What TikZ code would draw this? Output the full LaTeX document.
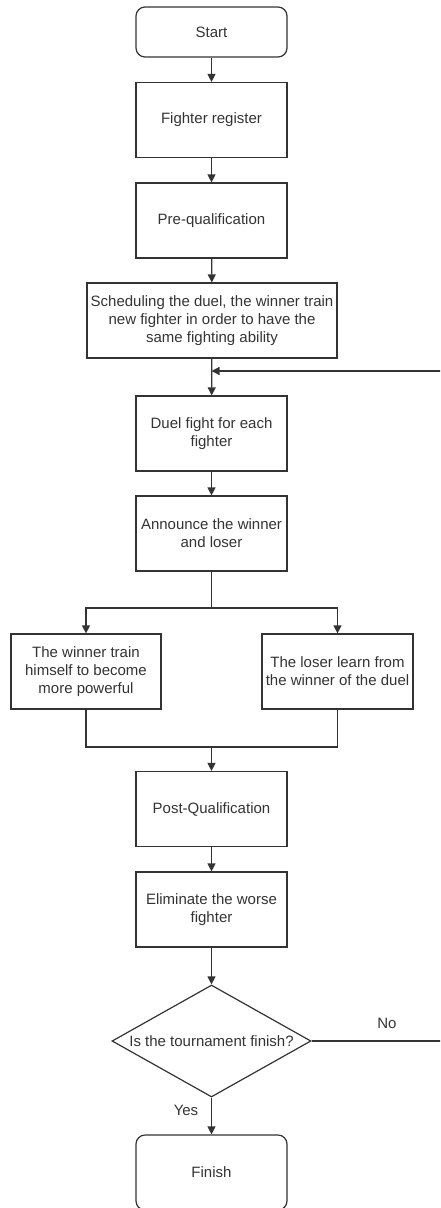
\documentclass[tikz,border=0pt]{standalone}
\usepackage{fontspec}
\setmainfont{Liberation Sans}
\usepackage{tikz}
\usetikzlibrary{arrows.meta}
\usetikzlibrary{shapes.geometric}

\definecolor{inkgray}{HTML}{333333}

\begin{document}
\begin{tikzpicture}[x=1pt, y=-1pt, >={Triangle[length=8pt,width=8pt]},
        every node/.style={text=inkgray, font=\fontsize{15}{18}\selectfont},
        process/.style={rectangle, draw=inkgray, line width=1.2pt, inner sep=0pt, align=center, minimum width=151pt, minimum height=75pt},
        terminal/.style={process, rounded corners=9pt},
        decision/.style={diamond, draw=inkgray, line width=1.2pt, inner sep=0pt, minimum width=199pt, minimum height=112pt},
        flow/.style={draw=inkgray, line width=1.2pt}]
        \useasboundingbox (0,0) rectangle (440,1208);
        \clip (0,0) rectangle (440,1208);

        \node[terminal, minimum height=50pt] (start) at (211.5,32) {Start};
        \node[process] (register) at (211.5,120) {Fighter register};
        \node[process] (prequal) at (211.5,220.5) {Pre-qualification};
        \node[process, minimum width=250pt] (schedule) at (212,320.5) {Scheduling the duel, the winner train\\new fighter in order to have the\\same fighting ability};
        \node[process] (duel) at (211.5,433.5) {Duel fight for each\\fighter};
        \node[process] (announce) at (211.5,533.5) {Announce the winner\\and loser};
        \node[process, minimum width=150pt] (wintrain) at (86,671.5) {The winner train\\himself to become\\more powerful};
        \node[process] (loselearn) at (337.5,671.5) {The loser learn from\\the winner of the duel};
        \node[process] (postqual) at (211.5,809) {Post-Qualification};
        \node[process] (eliminate) at (211.5,909.5) {Eliminate the worse\\fighter};
        \node[decision] (check) at (211.5,1041) {\makebox[0pt]{Is the tournament finish?}};
        \node[terminal] (finish) at (211.5,1172.5) {Finish};
        \node (nolabel) at (387,1023) {No};
        \node (yeslabel) at (186,1110) {Yes};

        \coordinate (split) at (211.5,608);
        \coordinate (merge) at (211.5,747);
        \coordinate (retcorner) at (450,1041);
        \coordinate (rettop) at (450,371);
        \coordinate (retjoin) at (211.5,371);

        \draw[flow, ->] (start) -- (register);
        \draw[flow, ->] (register) -- (prequal);
        \draw[flow, ->] (prequal) -- (schedule);
        \draw[flow, ->] (schedule) -- (duel);
        \draw[flow, ->] (duel) -- (announce);
        \draw[flow] (announce) -- (split);
        \draw[flow, ->] (split) -| (wintrain);
        \draw[flow, ->] (split) -| (loselearn);
        \draw[flow] (wintrain) |- (merge);
        \draw[flow] (loselearn) |- (merge);
        \draw[flow, ->] (merge) -- (postqual);
        \draw[flow, ->] (postqual) -- (eliminate);
        \draw[flow, ->] (eliminate) -- (check);
        \draw[flow, ->] (check) -- (finish);
        \draw[flow, ->] (check.east) -- (retcorner) -- (rettop) -- (retjoin);
    \end{tikzpicture}
\end{document}
